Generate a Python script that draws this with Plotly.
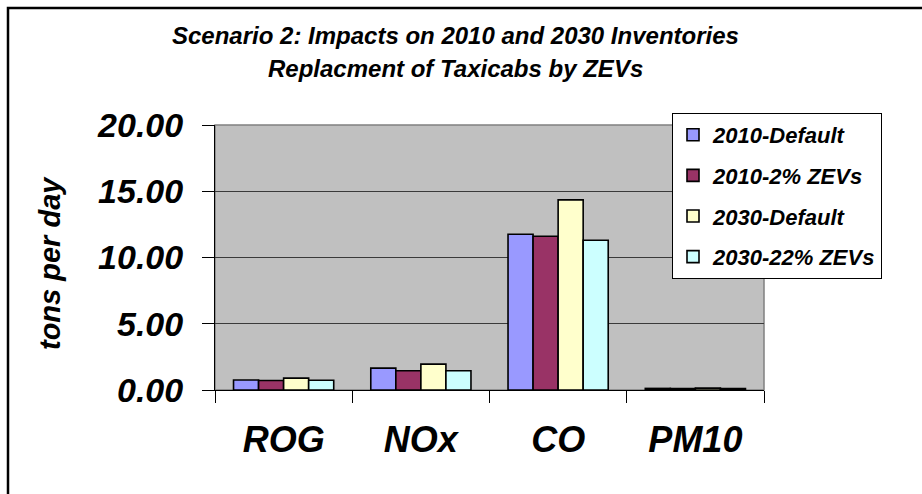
import plotly.graph_objects as go

# Pollutant categories and daily inventories (tons per day)
pollutants = ["ROG", "NOx", "CO", "PM10"]
series_names = ["2010-Default", "2010-2% ZEVs", "2030-Default", "2030-22% ZEVs"]
default_2010 = [0.75, 1.65, 11.75, 0.12]
zev2_2010 = [0.72, 1.45, 11.60, 0.11]
default_2030 = [0.90, 1.95, 14.35, 0.14]
zev22_2030 = [0.74, 1.45, 11.30, 0.11]
series_colors = ["#9999FF", "#993366", "#FFFFCC", "#CCFFFF"]

y_ticks = [0, 5, 10, 15, 20]

title_lines = ["Scenario 2: Impacts on 2010 and 2030 Inventories",
               "Replacment of Taxicabs by ZEVs"]

FONT = "Liberation Sans, Arial, sans-serif"

W, H = 922, 494
# plot area in pixels
PL, PR, PT, PB = 215, 764, 125, 390


def px_x(px):
    return (px - PL) / (PR - PL)


def px_y(py):
    return (PB - py) / (PB - PT)


def bold_italic(size):
    return dict(family=FONT, size=size, weight="bold", style="italic", color="black")


fig = go.Figure()
for i, (name, vals, col) in enumerate(
    zip(series_names, [default_2010, zev2_2010, default_2030, zev22_2030], series_colors)
):
    fig.add_trace(
        go.Bar(
            x=pollutants,
            y=vals,
            name=name,
            legendgroup=f"g{i}",
            marker=dict(color=col, line=dict(color="black", width=1.6)),
        )
    )

fig.update_layout(
    width=W,
    height=H,
    margin=dict(l=PL, r=W - PR, t=PT, b=H - PB, pad=0),
    paper_bgcolor="white",
    plot_bgcolor="#C0C0C0",
    barmode="group",
    bargap=0.27,
    bargroupgap=0,
    font=dict(family=FONT, color="black"),
    showlegend=True,
    legend=dict(
        x=px_x(672),
        y=px_y(113),
        xanchor="left",
        yanchor="top",
        bgcolor="white",
        bordercolor="black",
        borderwidth=1,
        font=bold_italic(22),
        tracegroupgap=9,
        traceorder="grouped",
    ),
    xaxis=dict(
        type="category",
        tickson="boundaries",
        ticks="outside",
        ticklen=12,
        tickcolor="black",
        tickwidth=1,
        showline=True,
        linecolor="black",
        linewidth=1,
        showgrid=False,
        tickfont=bold_italic(36),
        ticklabelstandoff=18,
    ),
    yaxis=dict(
        range=[0, 20],
        tickvals=y_ticks,
        tickformat=".2f",
        ticks="outside",
        ticklen=12,
        tickcolor="black",
        tickwidth=1,
        showline=True,
        linecolor="black",
        linewidth=1,
        showgrid=True,
        gridcolor="#3a3a3a",
        gridwidth=1,
        zeroline=False,
        tickfont=bold_italic(34),
        ticklabelstandoff=12,
    ),
    shapes=[
        # plot-area frame
        dict(type="rect", xref="paper", yref="paper", x0=0, x1=1, y0=0, y1=1,
             line=dict(color="#808080", width=1.5), layer="below"),
        # chart outer border
        dict(type="rect", xref="paper", yref="paper",
             x0=px_x(8), x1=px_x(930), y0=px_y(8), y1=px_y(505),
             line=dict(color="black", width=2.5)),
    ],
    annotations=[
        dict(
            text=title_lines[0],
            xref="paper", yref="paper", x=px_x(455), y=px_y(35),
            xanchor="center", yanchor="middle", showarrow=False,
            font=bold_italic(24),
        ),
        dict(
            text=title_lines[1],
            xref="paper", yref="paper", x=px_x(455), y=px_y(68),
            xanchor="center", yanchor="middle", showarrow=False,
            font=bold_italic(24),
        ),
        dict(
            text="tons per day",
            xref="paper", yref="paper", x=px_x(50), y=px_y(263),
            xanchor="center", yanchor="middle", showarrow=False, textangle=-90,
            font=bold_italic(29),
        ),
    ],
)

fig.write_html("out.html")
